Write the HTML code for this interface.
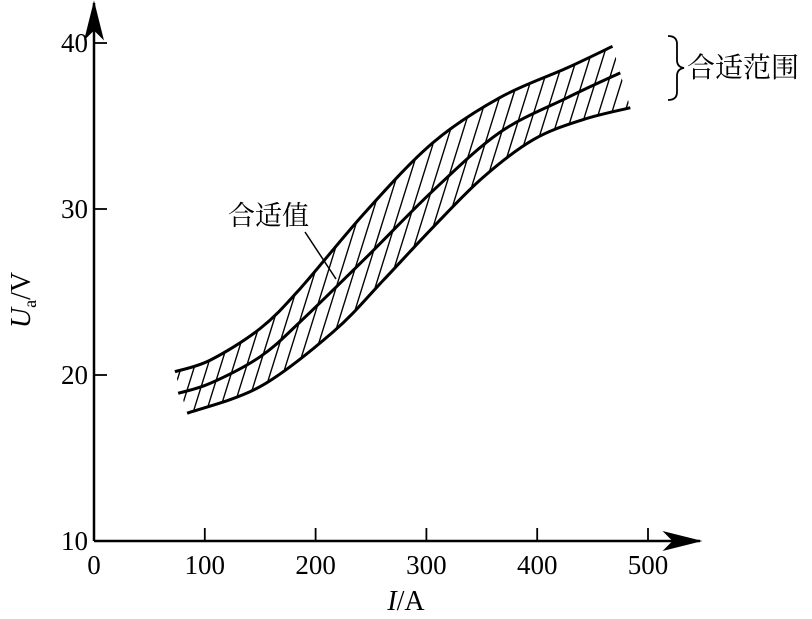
<!DOCTYPE html>
<html><head><meta charset="utf-8"><style>
body{margin:0;background:#fff}
svg text{font-family:"Liberation Serif","Noto Serif CJK SC",serif;fill:#000}
</style></head><body>
<svg width="812" height="614" viewBox="0 0 812 614" xmlns="http://www.w3.org/2000/svg">
<defs>
<marker id="ah" markerWidth="16" markerHeight="8" refX="15" refY="4" orient="auto"><path d="M0,0 L16,4 L0,8 L4,4 Z" fill="#000"/></marker>
<clipPath id="band"><path id="bandpath" d=""/></clipPath>
</defs>
<g id="marks"></g>
<line x1="94" y1="541" x2="700" y2="541" stroke="#000" stroke-width="2.5" marker-end="url(#ah)"/>
<line x1="94" y1="541" x2="94" y2="3" stroke="#000" stroke-width="2.5" marker-end="url(#ah)"/>
<g id="xt"></g><g id="yt"></g>
<text x="406" y="610" font-size="28" text-anchor="middle"><tspan font-style="italic">I</tspan>/A</text>
<text transform="translate(30,300) rotate(-90)" font-size="28" text-anchor="middle"><tspan font-style="italic">U</tspan><tspan font-size="18" dy="6">a</tspan><tspan dy="-6">/V</tspan></text>
<text x="228" y="225" font-size="27">合适值</text>
<line x1="305" y1="232" x2="336" y2="279" stroke="#000" stroke-width="1.5"/>
<path d="M668,36 Q677,36 677,44 L677,60 Q677,67 684,68 Q677,69 677,76 L677,92 Q677,100 668,100" fill="none" stroke="#000" stroke-width="1.8"/>
<text x="687" y="77" font-size="28">合适范围</text>
</svg>
<script>
const xTicks=[0,100,200,300,400,500];
const yTicks=[10,20,30,40];
const upperI=[73,105,150,186,246,306,366,427,468];
const upperU=[20.2,20.9,22.8,25.2,29.9,34.0,36.7,38.5,39.8];
const midI=[76,105,150,186,246,306,366,427,475];
const midU=[18.9,19.5,21.1,23.2,27.1,31.1,34.6,36.7,38.2];
const lowI=[84,150,216,261,306,351,397,442,484];
const lowU=[17.7,19.3,22.6,25.7,28.9,31.9,34.2,35.4,36.1];
const NS="http://www.w3.org/2000/svg";
function xs(v){return 94+v*1.108;}
function ys(v){return 541-(v-10)*16.6;}
function pts(I,U){return I.map((v,i)=>[xs(v),ys(U[i])]);}
function smooth(p){let d="M"+p[0][0].toFixed(1)+","+p[0][1].toFixed(1);
 for(let i=0;i<p.length-1;i++){const p0=p[i-1]||p[i],p1=p[i],p2=p[i+1],p3=p[i+2]||p2;
 const c1=[p1[0]+(p2[0]-p0[0])/6,p1[1]+(p2[1]-p0[1])/6],c2=[p2[0]-(p3[0]-p1[0])/6,p2[1]-(p3[1]-p1[1])/6];
 d+=` C${c1[0].toFixed(1)},${c1[1].toFixed(1)} ${c2[0].toFixed(1)},${c2[1].toFixed(1)} ${p2[0].toFixed(1)},${p2[1].toFixed(1)}`;}return d;}
const up=pts(upperI,upperU),md=pts(midI,midU),lo=pts(lowI,lowU);
const g=document.getElementById('marks');
const loRev=lo.slice().reverse();
const sr=smooth(loRev);
let bd=smooth(up)+" L"+loRev[0][0]+","+loRev[0][1]+sr.slice(sr.indexOf(" C"))+" Z";
document.getElementById('bandpath').setAttribute('d',bd);
const hg=document.createElementNS(NS,'g');
hg.setAttribute('clip-path','url(#band)');


for(let x=-100;x<800;x+=13){const l=document.createElementNS(NS,'line');
 l.setAttribute('x1',x);l.setAttribute('y1',560);l.setAttribute('x2',x+175);l.setAttribute('y2',0);
 l.setAttribute('stroke','#000');l.setAttribute('stroke-width','1.4');hg.appendChild(l);}
g.appendChild(hg);
[[up,'upper-limit-curve'],[md,'optimal-curve'],[lo,'lower-limit-curve']].forEach(([p,n])=>{
 const e=document.createElementNS(NS,'path');e.setAttribute('d',smooth(p));
 e.setAttribute('fill','none');e.setAttribute('stroke','#000');e.setAttribute('stroke-width','3');
 
 
 g.appendChild(e);});
const xt=document.getElementById('xt');
xTicks.forEach(v=>{const x=xs(v);
 if(v>0){const l=document.createElementNS(NS,'line');l.setAttribute('x1',x);l.setAttribute('x2',x);l.setAttribute('y1',528);l.setAttribute('y2',541);l.setAttribute('stroke','#000');l.setAttribute('stroke-width','1.8');
 
 xt.appendChild(l);}
 const t=document.createElementNS(NS,'text');t.setAttribute('x',x);t.setAttribute('y',574);t.setAttribute('font-size','27');t.setAttribute('text-anchor','middle');t.textContent=v;
 
 xt.appendChild(t);});
const yt=document.getElementById('yt');
yTicks.forEach(v=>{const y=ys(v);
 if(v>10){const l=document.createElementNS(NS,'line');l.setAttribute('x1',94);l.setAttribute('x2',107);l.setAttribute('y1',y);l.setAttribute('y2',y);l.setAttribute('stroke','#000');l.setAttribute('stroke-width','1.8');
 
 yt.appendChild(l);}
 const t=document.createElementNS(NS,'text');t.setAttribute('x',88);t.setAttribute('y',y+9);t.setAttribute('font-size','27');t.setAttribute('text-anchor','end');t.textContent=v;
 
 yt.appendChild(t);});
</script>
</body></html>
